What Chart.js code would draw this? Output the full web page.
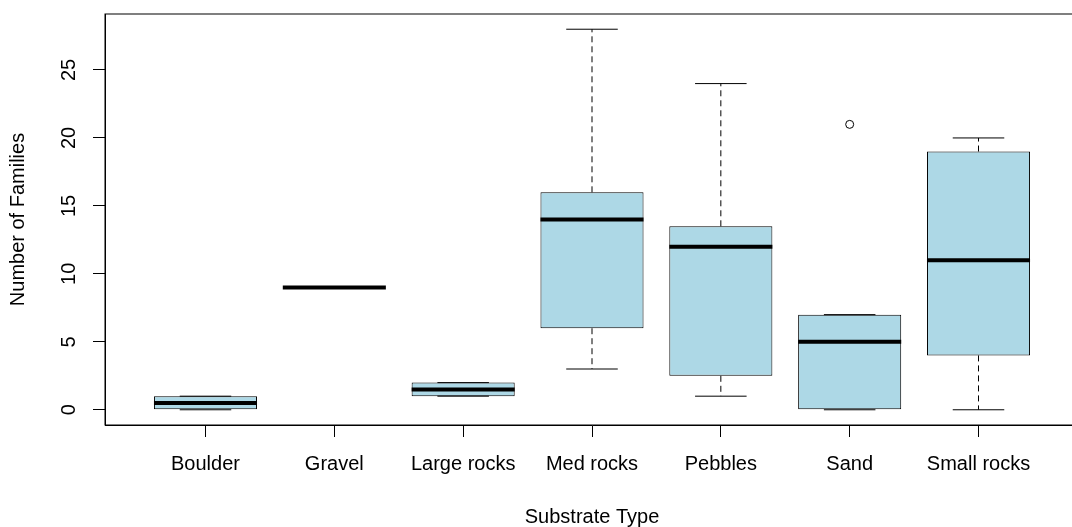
<!DOCTYPE html>
<html>
<head>
<meta charset="utf-8">
<script src="https://cdn.jsdelivr.net/npm/chart.js@4.4.1/dist/chart.umd.min.js"></script>
<style>
  html, body { margin: 0; padding: 0; background: #fff; }
  #wrap { width: 1072px; height: 527px; overflow: hidden; }
</style>
</head>
<body>
<div id="wrap"><canvas id="boxChart" width="1084" height="527"></canvas></div>
<script>
// substrate box plot values
const categories = ["Boulder", "Gravel", "Large rocks", "Med rocks", "Pebbles", "Sand", "Small rocks"];
const lowerWhisker = [0, 9, 1, 3, 1, 0, 0];
const q1 = [0, 9, 1, 6, 2.5, 0, 4];
const medians = [0.5, 9, 1.5, 14, 12, 5, 11];
const q3 = [1, 9, 2, 16, 13.5, 7, 19];
const upperWhisker = [1, 9, 2, 28, 24, 7, 20];
const outliers = [[], [], [], [], [], [21], []];
const yTicks = [0, 5, 10, 15, 20, 25];

const FONT = "'Liberation Sans', Arial, sans-serif";
const gap = (x) => ({ x, y: null });

const boxData = [], whiskerData = [], capData = [], medianData = [], outlierData = [];
categories.forEach((c, i) => {
  const x = i + 1;
  boxData.push({ x, y: [q1[i], q3[i]] });
  whiskerData.push({ x, y: q3[i] }, { x, y: upperWhisker[i] }, gap(x),
                   { x, y: q1[i] }, { x, y: lowerWhisker[i] }, gap(x));
  capData.push({ x: x - 0.2, y: upperWhisker[i] }, { x: x + 0.2, y: upperWhisker[i] }, gap(x),
               { x: x - 0.2, y: lowerWhisker[i] }, { x: x + 0.2, y: lowerWhisker[i] }, gap(x));
  medianData.push({ x: x - 0.4, y: medians[i] }, { x: x + 0.4, y: medians[i] }, gap(x));
  outliers[i].forEach((v) => outlierData.push({ x, y: v }));
});

// R draws a full frame round the plot region
const frame = {
  id: "frame",
  afterDatasetsDraw(chart) {
    const { ctx, chartArea: a } = chart;
    ctx.save();
    ctx.strokeStyle = "#000";
    ctx.lineWidth = 1;
    ctx.strokeRect(a.left, a.top, a.right - a.left, a.bottom - a.top);
    ctx.restore();
  },
};

const lineBase = {
  type: "line",
  pointRadius: 0,
  tension: 0,
  spanGaps: false,
  fill: false,
  borderColor: "#000",
  borderCapStyle: "butt",
};

new Chart(document.getElementById("boxChart"), {
  type: "bar",
  data: {
    datasets: [
      { ...lineBase, data: medianData, borderWidth: 4, order: 0 },
      {
        type: "line", data: outlierData, showLine: false, order: 0,
        pointRadius: 4, pointBorderWidth: 1, pointBorderColor: "#000",
        pointBackgroundColor: "rgba(0,0,0,0)",
      },
      { ...lineBase, data: capData, borderWidth: 1, order: 1 },
      { ...lineBase, data: whiskerData, borderWidth: 1, borderDash: [6, 4], order: 2 },
      {
        data: boxData, order: 3,
        backgroundColor: "#add8e6", borderColor: "#000", borderWidth: 1,
        borderSkipped: false, categoryPercentage: 0.8, barPercentage: 1,
      },
    ],
  },
  options: {
    responsive: false,
    animation: false,
    devicePixelRatio: 1,
    layout: { padding: { top: 14, right: 2, left: 0, bottom: 0 } },
    plugins: { legend: { display: false }, tooltip: { enabled: false } },
    scales: {
      x: {
        type: "linear",
        min: 0.22,
        max: 7.78,
        offset: false,
        afterBuildTicks: (s) => { s.ticks = categories.map((c, i) => ({ value: i + 1 })); },
        afterFit: (s) => { s.height = 102; s.paddingLeft = 0; s.paddingRight = 0; },
        ticks: {
          autoSkip: false, maxRotation: 0, color: "#000", padding: 15,
          font: { family: FONT, size: 20 },
          callback: (v) => categories[v - 1],
        },
        grid: { offset: false, drawOnChartArea: false, tickLength: 12, color: "#000" },
        border: { color: "#000" },
        title: {
          display: true, text: "Substrate Type", color: "#000",
          font: { family: FONT, size: 20 }, padding: { top: 0, bottom: -2 },
        },
      },
      y: {
        min: -1.12,
        max: 29.12,
        afterBuildTicks: (s) => { s.ticks = yTicks.map((v) => ({ value: v })); },
        afterFit: (s) => { s.width = 105; s.paddingTop = 0; s.paddingBottom = 0; },
        ticks: {
          color: "#000", minRotation: 90, maxRotation: 90, crossAlign: "center",
          padding: 12, font: { family: FONT, size: 20 },
        },
        grid: { drawOnChartArea: false, tickLength: 12, color: "#000" },
        border: { color: "#000" },
        title: {
          display: true, text: "Number of Families", color: "#000",
          font: { family: FONT, size: 20 }, padding: { top: 6, bottom: 0 },
        },
      },
    },
  },
  plugins: [frame],
});
</script>
</body>
</html>
